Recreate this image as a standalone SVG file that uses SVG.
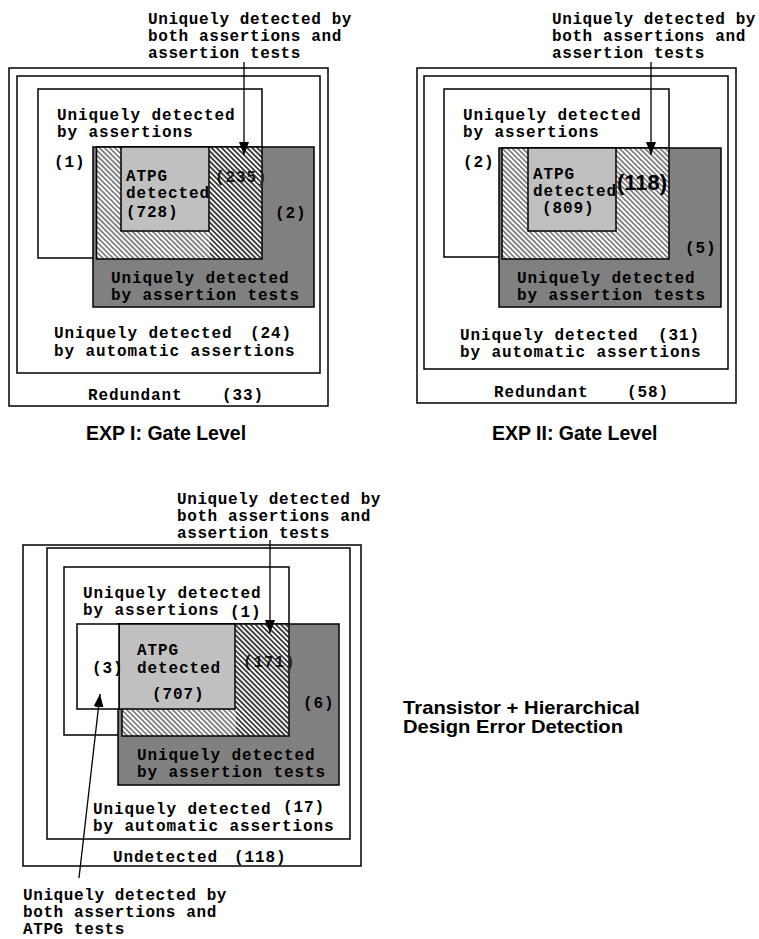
<svg xmlns="http://www.w3.org/2000/svg" width="759" height="939" viewBox="0 0 759 939">
<style>
.box{fill:#fff;stroke:#000;stroke-width:1.5}
.dark{fill:#808080;stroke:#000;stroke-width:1.5}
.atpg{fill:#c0c0c0;stroke:#000;stroke-width:1.5}
.hatch{fill:url(#hatch);stroke:#000;stroke-width:1.5}
.hlines{fill:url(#hatchLines);stroke:none}
.t{font-family:"Liberation Mono","Courier New",monospace;font-weight:bold;font-size:16px;letter-spacing:0.9px;fill:#000}
.lbl{letter-spacing:0.6px}
.dim{fill:#222}
.title{font-family:"Liberation Sans",Arial,sans-serif;font-weight:bold;font-size:19.5px;fill:#000}
.big{font-family:"Liberation Sans",Arial,sans-serif;font-weight:bold;font-size:22px;fill:#000}
.conn{stroke:#000;stroke-width:1.3;fill:none;marker-end:url(#arr)}
</style>
<defs>
<pattern id="hatch" patternUnits="userSpaceOnUse" width="3.6" height="3.6" patternTransform="rotate(-45)">
<rect width="3.6" height="3.6" fill="#fff"/>
<line x1="1.8" y1="0" x2="1.8" y2="3.6" stroke="#000" stroke-width="0.9"/>
</pattern>
<pattern id="hatchLines" patternUnits="userSpaceOnUse" width="3.6" height="3.6" patternTransform="rotate(-45)">
<line x1="1.8" y1="0" x2="1.8" y2="3.6" stroke="#000" stroke-width="0.9"/>
</pattern>
<marker id="arr" markerUnits="userSpaceOnUse" markerWidth="14" markerHeight="12" refX="13" refY="5" orient="auto">
<path d="M0,0 L13,5 L0,10 Z" fill="#000"/>
</marker>
</defs>

<!-- EXP I -->
<g id="exp1-redundant">
<rect class="box" x="9" y="68" width="319" height="338"/>
<text class="t" x="88" y="400">Redundant</text>
<text class="t" x="222" y="400">(33)</text>
</g>
<g id="exp1-auto">
<rect class="box" x="17" y="76" width="303" height="297"/>
<text class="t" x="54" y="338">Uniquely detected</text>
<text class="t" x="250" y="338">(24)</text>
<text class="t" x="54" y="356">by automatic assertions</text>
</g>
<g id="exp1-assert">
<rect class="box" x="38" y="89" width="224" height="169"/>
<text class="t" x="57" y="120">Uniquely detected</text>
<text class="t" x="57" y="137">by assertions</text>
<text class="t" x="54" y="167">(1)</text>
</g>
<g id="exp1-atests">
<rect class="dark" x="93" y="147" width="221" height="160"/>
<text class="t" x="275" y="218">(2)</text>
<text class="t" x="111" y="283">Uniquely detected</text>
<text class="t" x="111" y="300">by assertion tests</text>
</g>
<g id="exp1-both">
<rect class="hatch" x="96.5" y="147" width="165.5" height="112"/>
<text class="t dim" x="215" y="182">(235)</text>
<rect class="hlines" x="210" y="148" width="51" height="110"/>
</g>
<g id="exp1-atpg">
<rect class="atpg" x="121" y="147" width="88" height="84"/>
<text class="t" x="126" y="181">ATPG</text>
<text class="t" x="126" y="198">detected</text>
<text class="t" x="126" y="217">(728)</text>
</g>
<g id="exp1-label">
<text class="t lbl" x="148" y="24">Uniquely detected by</text>
<text class="t lbl" x="148" y="41">both assertions and</text>
<text class="t lbl" x="148" y="58">assertion tests</text>
</g>
<g id="exp1-title"><text class="title" x="86" y="440">EXP I: Gate Level</text></g>

<!-- EXP II -->
<g id="exp2-redundant">
<rect class="box" x="417" y="68" width="319" height="335"/>
<text class="t" x="494" y="397">Redundant</text>
<text class="t" x="627" y="397">(58)</text>
</g>
<g id="exp2-auto">
<rect class="box" x="424" y="76" width="304" height="293"/>
<text class="t" x="460" y="340">Uniquely detected</text>
<text class="t" x="658" y="340">(31)</text>
<text class="t" x="460" y="357">by automatic assertions</text>
</g>
<g id="exp2-assert">
<rect class="box" x="444" y="89" width="225" height="168"/>
<text class="t" x="463" y="120">Uniquely detected</text>
<text class="t" x="463" y="137">by assertions</text>
<text class="t" x="463" y="167">(2)</text>
</g>
<g id="exp2-atests">
<rect class="dark" x="499" y="148" width="222" height="159"/>
<text class="t" x="685" y="253">(5)</text>
<text class="t" x="517" y="283">Uniquely detected</text>
<text class="t" x="517" y="300">by assertion tests</text>
</g>
<g id="exp2-both">
<rect class="hatch" x="502" y="148" width="167" height="111"/>
</g>
<g id="exp2-atpg">
<rect class="atpg" x="528" y="148" width="88" height="83"/>
<text class="t" x="533" y="179">ATPG</text>
<text class="t" x="533" y="196">detected</text>
<text class="t" x="542" y="213">(809)</text>
</g>
<g id="exp2-both-count"><text class="big" x="617" y="190" textLength="50" lengthAdjust="spacingAndGlyphs">(118)</text></g>
<g id="exp2-label">
<text class="t lbl" x="552" y="24">Uniquely detected by</text>
<text class="t lbl" x="552" y="41">both assertions and</text>
<text class="t lbl" x="552" y="58">assertion tests</text>
</g>
<g id="exp2-title"><text class="title" x="492" y="440">EXP II: Gate Level</text></g>

<!-- Transistor + Hierarchical -->
<g id="exp3-undetected">
<rect class="box" x="23" y="545" width="338" height="321"/>
<text class="t" x="113" y="862">Undetected</text>
<text class="t" x="234" y="862">(118)</text>
</g>
<g id="exp3-auto">
<rect class="box" x="47" y="548" width="303" height="291"/>
<text class="t" x="93" y="814">Uniquely detected</text>
<text class="t" x="283" y="812">(17)</text>
<text class="t" x="93" y="831">by automatic assertions</text>
</g>
<g id="exp3-assert">
<rect class="box" x="64" y="567" width="225" height="168"/>
<text class="t" x="83" y="598">Uniquely detected</text>
<text class="t" x="83" y="615">by assertions</text>
<text class="t" x="230" y="617">(1)</text>
</g>
<g id="exp3-atests">
<rect class="dark" x="118" y="624" width="221" height="161"/>
<text class="t" x="303" y="708">(6)</text>
<text class="t" x="137" y="760">Uniquely detected</text>
<text class="t" x="137" y="777">by assertion tests</text>
</g>
<g id="exp3-both">
<rect class="hatch" x="122" y="624" width="167" height="112"/>
<text class="t dim" x="243" y="667">(171)</text>
<rect class="hlines" x="236" y="625" width="52" height="110"/>
</g>
<g id="exp3-atpg">
<rect class="atpg" x="119" y="624" width="116" height="85"/>
<text class="t" x="137" y="655">ATPG</text>
<text class="t" x="137" y="673">detected</text>
<text class="t" x="152" y="699">(707)</text>
</g>
<g id="exp3-assert-atpg">
<rect class="box" x="77" y="624" width="42" height="85"/>
<text class="t" x="92" y="673">(3)</text>
</g>
<g id="exp3-label-top">
<text class="t lbl" x="177" y="504">Uniquely detected by</text>
<text class="t lbl" x="177" y="521">both assertions and</text>
<text class="t lbl" x="177" y="538">assertion tests</text>
</g>
<g id="exp3-label-bottom">
<text class="t lbl" x="23" y="900">Uniquely detected by</text>
<text class="t lbl" x="23" y="917">both assertions and</text>
<text class="t lbl" x="23" y="934">ATPG tests</text>
</g>
<g id="exp3-title">
<text class="title" x="403" y="714" style="font-size:19px" textLength="237" lengthAdjust="spacingAndGlyphs">Transistor + Hierarchical</text>
<text class="title" x="403" y="733" style="font-size:19px" textLength="220" lengthAdjust="spacingAndGlyphs">Design Error Detection</text>
</g>

<g id="connectors">
<line class="conn" x1="244" y1="62" x2="244" y2="155"/>
<line class="conn" x1="651" y1="62" x2="651" y2="155"/>
<line class="conn" x1="270" y1="540" x2="270" y2="633"/>
<line class="conn" x1="79" y1="878" x2="100" y2="694"/>
</g>
</svg>
